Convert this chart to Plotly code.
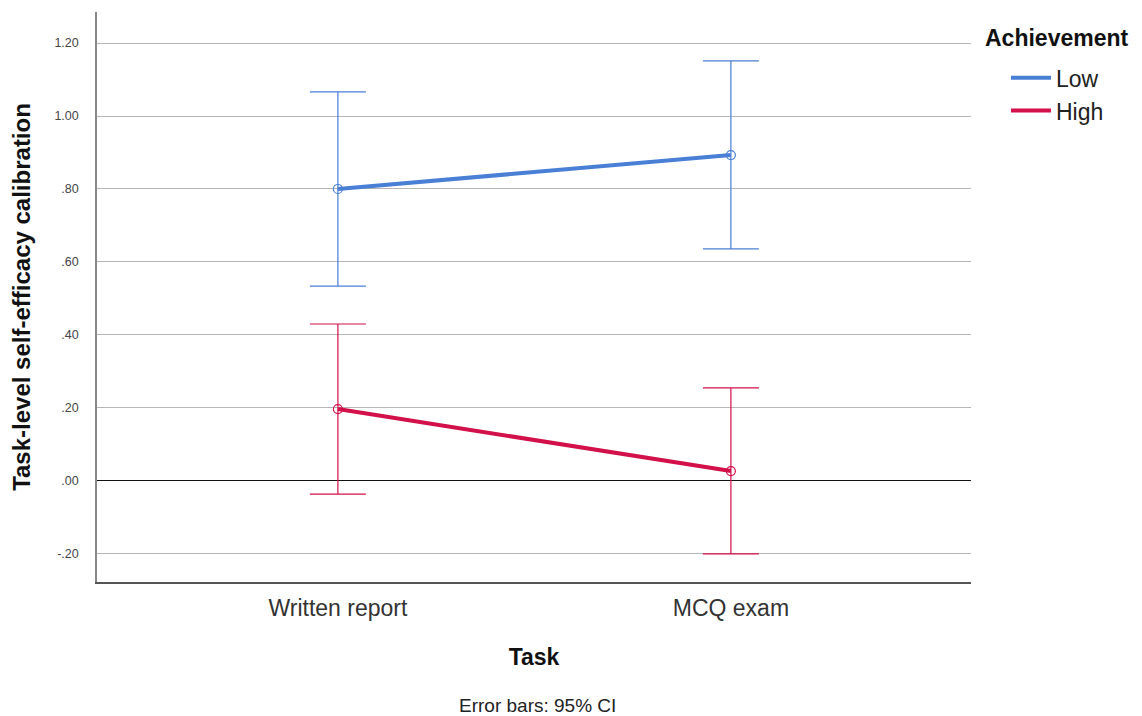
import plotly.graph_objects as go

tasks = ["Written report", "MCQ exam"]
groups = ["Low", "High"]
means = {"Low": [0.800, 0.893], "High": [0.197, 0.027]}
ci_upper = {"Low": [1.066, 1.151], "High": [0.430, 0.255]}
ci_lower = {"Low": [0.534, 0.636], "High": [-0.036, -0.200]}
colors = {"Low": "#4a7fd6", "High": "#d2104a"}

y_tickvals = [-0.20, 0.00, 0.20, 0.40, 0.60, 0.80, 1.00, 1.20]
y_ticktext = ["-.20", ".00", ".20", ".40", ".60", ".80", "1.00", "1.20"]

fig = go.Figure()
for g in groups:
    m = means[g]
    up = [u - v for u, v in zip(ci_upper[g], m)]
    lo = [v - l for v, l in zip(m, ci_lower[g])]
    fig.add_trace(go.Scatter(
        x=tasks, y=m, name=g, mode="lines+markers", showlegend=False,
        legendgroup=g,
        line=dict(color=colors[g], width=4),
        marker=dict(symbol="circle-open", size=9, color=colors[g], line=dict(width=1.2)),
        error_y=dict(type="data", symmetric=False, array=up, arrayminus=lo,
                     color=colors[g], thickness=1.2, width=28),
    ))
# legend entries (line only, like the reference)
for g in groups:
    fig.add_trace(go.Scatter(
        x=[None], y=[None], name=g, mode="lines", legendgroup=g,
        line=dict(color=colors[g], width=4), showlegend=True,
    ))

font_family = "Liberation Sans, Arial, sans-serif"
fig.update_layout(
    width=1134, height=708,
    margin=dict(l=89, r=171, t=4, b=134),
    paper_bgcolor="white", plot_bgcolor="white",
    font=dict(family=font_family, color="#222"),
    showlegend=True,
    legend=dict(
        x=1.040, y=0.9225, xanchor="left", yanchor="top",
        font=dict(size=23, color="#222"),
        itemwidth=40, tracegroupgap=0,
    ),
    xaxis=dict(
        range=[-0.613, 1.611], showgrid=False, zeroline=False,
        showline=True, linecolor="#555", linewidth=1.5,
        ticks="", tickfont=dict(size=23, color="#333"), ticklabelstandoff=5,
        title=dict(text="<b>Task</b>", font=dict(size=23, color="#111"), standoff=29),
    ),
    yaxis=dict(
        range=[-0.277, 1.285], tickvals=y_tickvals, ticktext=y_ticktext,
        showgrid=True, gridcolor="#b5b5b5", gridwidth=1,
        zeroline=True, zerolinecolor="#111", zerolinewidth=1.3,
        showline=True, linecolor="#888", linewidth=1.5,
        ticks="", tickfont=dict(size=12.5, color="#444"), ticklabelstandoff=14,
        title=dict(text="<b>Task-level self-efficacy calibration</b>",
                   font=dict(size=24, color="#111"), standoff=17),
    ),
    annotations=[
        dict(text="<b>Achievement</b>", xref="paper", yref="paper",
             x=1.0135, y=0.954, xanchor="left", yanchor="middle",
             showarrow=False, font=dict(size=23, color="#111")),
        dict(text="Error bars: 95% CI", xref="paper", yref="paper",
             x=0.504, y=-0.216, xanchor="center", yanchor="middle",
             showarrow=False, font=dict(size=19, color="#222")),
    ],
)

fig.write_html("out.html")
